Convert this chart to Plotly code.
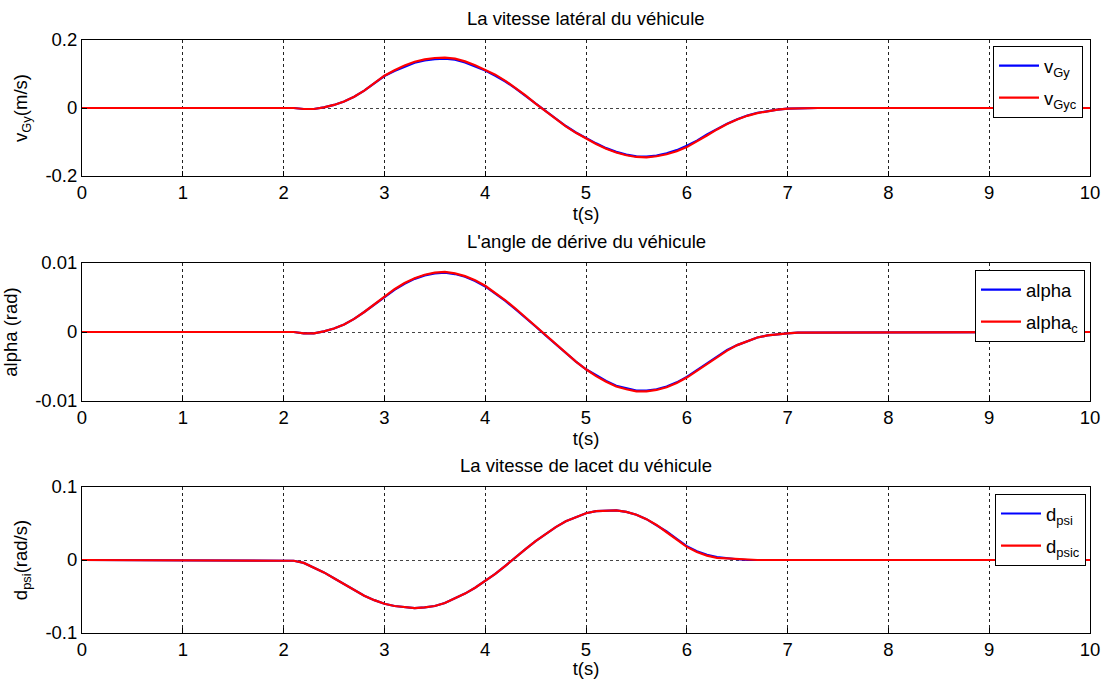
import plotly.graph_objects as go

W, H = 1104, 679

t = [0, 2.0, 2.1, 2.2, 2.3, 2.4, 2.5, 2.6, 2.7, 2.8, 2.9,
     3.0, 3.1, 3.2, 3.3, 3.4, 3.5, 3.6, 3.7, 3.8, 3.9,
     4.0, 4.1, 4.2, 4.3, 4.4, 4.5, 4.6, 4.7, 4.8, 4.9,
     5.0, 5.1, 5.2, 5.3, 5.4, 5.5, 5.6, 5.7, 5.8, 5.9,
     6.0, 6.1, 6.2, 6.3, 6.4, 6.5, 6.6, 6.7, 6.8, 6.9,
     7.0, 7.1, 7.2, 7.3, 10]

v_gy = [0, 0, 0, -0.003, -0.003, 0.002, 0.009, 0.019, 0.033, 0.051, 0.072,
        0.094, 0.109, 0.122, 0.133, 0.140, 0.144, 0.145, 0.142, 0.134, 0.123,
        0.110, 0.095, 0.078, 0.058, 0.036, 0.013, -0.010, -0.032, -0.053, -0.072,
        -0.089, -0.104, -0.118, -0.129, -0.137, -0.142, -0.143, -0.140, -0.133, -0.124,
        -0.111, -0.096, -0.078, -0.061, -0.046, -0.033, -0.022, -0.014, -0.009, -0.005,
        -0.002, -0.001, 0, 0, 0]
v_gyc = [0, 0, 0, -0.003, -0.003, 0.002, 0.009, 0.019, 0.033, 0.051, 0.073,
         0.095, 0.111, 0.125, 0.136, 0.143, 0.147, 0.148, 0.145, 0.137, 0.126,
         0.113, 0.098, 0.080, 0.059, 0.037, 0.013, -0.010, -0.032, -0.054, -0.073,
         -0.090, -0.106, -0.120, -0.131, -0.139, -0.144, -0.145, -0.142, -0.136, -0.127,
         -0.115, -0.099, -0.081, -0.063, -0.047, -0.034, -0.023, -0.015, -0.009, -0.005,
         -0.002, -0.001, 0, 0, 0]

alpha = [0, 0, 0, -0.0002, -0.0002, 0.0001, 0.0005, 0.0011, 0.0019, 0.0029, 0.0040,
         0.0051, 0.0061, 0.0070, 0.0077, 0.0082, 0.0085, 0.0086, 0.0084, 0.0080, 0.0074,
         0.0066, 0.0056, 0.0045, 0.0033, 0.0021, 0.0008, -0.0005, -0.0018, -0.0031, -0.0043,
         -0.0054, -0.0063, -0.0071, -0.0078, -0.0082, -0.0085, -0.0085, -0.0083, -0.0079, -0.0073,
         -0.0065, -0.0055, -0.0045, -0.0035, -0.0026, -0.0019, -0.0013, -0.0008, -0.0005, -0.0003,
         -0.0002, -0.0001, -0.0001, 0, 0]
alpha_c = [0, 0, 0, -0.0002, -0.0002, 0.0001, 0.0005, 0.0011, 0.0019, 0.0029, 0.0040,
           0.0052, 0.0062, 0.0071, 0.0078, 0.0083, 0.0086, 0.0087, 0.0085, 0.0081, 0.0075,
           0.0067, 0.0057, 0.0046, 0.0034, 0.0021, 0.0008, -0.0005, -0.0018, -0.0031, -0.0043,
           -0.0054, -0.0064, -0.0072, -0.0079, -0.0083, -0.0086, -0.0086, -0.0084, -0.0080, -0.0074,
           -0.0066, -0.0056, -0.0046, -0.0036, -0.0027, -0.0019, -0.0013, -0.0008, -0.0005, -0.0003,
           -0.0002, -0.0001, -0.0001, 0, 0]

d_psi = [0, 0, -0.001, -0.004, -0.010, -0.017, -0.025, -0.033, -0.041, -0.049, -0.055,
         -0.060, -0.063, -0.065, -0.066, -0.065, -0.063, -0.059, -0.053, -0.046, -0.038,
         -0.029, -0.019, -0.008, 0.004, 0.015, 0.026, 0.036, 0.045, 0.053, 0.059,
         0.064, 0.067, 0.068, 0.068, 0.066, 0.062, 0.056, 0.048, 0.039, 0.029,
         0.019, 0.012, 0.007, 0.004, 0.002, 0.001, 0, 0, 0, 0,
         0, 0, 0, 0, 0]
d_psic = [0, 0, -0.001, -0.004, -0.010, -0.017, -0.025, -0.033, -0.041, -0.049, -0.055,
          -0.060, -0.063, -0.065, -0.066, -0.065, -0.063, -0.059, -0.053, -0.046, -0.038,
          -0.029, -0.019, -0.008, 0.004, 0.015, 0.026, 0.036, 0.045, 0.053, 0.059,
          0.064, 0.067, 0.068, 0.068, 0.066, 0.062, 0.056, 0.048, 0.038, 0.028,
          0.018, 0.011, 0.006, 0.003, 0.002, 0.001, 0, 0, 0, 0,
          0, 0, 0, 0, 0]

titles = ["La vitesse latéral du véhicule",
          "L'angle de dérive du véhicule",
          "La vitesse de lacet du véhicule"]
ylabels = ["v<sub>Gy</sub>(m/s)", "alpha (rad)", "d<sub>psi</sub>(rad/s)"]
names = [("v<sub>Gy</sub>", "v<sub>Gyc</sub>"),
         ("alpha", "alpha<sub>c</sub>"),
         ("d<sub>psi</sub>", "d<sub>psic</sub>")]
ylims = [0.2, 0.01, 0.1]
yticktext = [["-0.2", "0", "0.2"], ["-0.01", "0", "0.01"], ["-0.1", "0", "0.1"]]
xticks = list(range(0, 11))

series = [(v_gy, v_gyc), (alpha, alpha_c), (d_psi, d_psic)]

# pixel boxes (top, bottom) of each axes
boxes = [(40, 176), (263, 401), (487, 633)]
xl, xr = 82, 1090
legend_pos = [(1083, 46), (1085, 270), (1086, 494)]

FONT = "Liberation Sans"
fs = 18.5

fig = go.Figure()
for i in range(3):
    ax = "" if i == 0 else str(i + 1)
    b, r = series[i]
    leg = "legend" if i == 0 else "legend" + str(i + 1)
    fig.add_trace(go.Scatter(x=t, y=b, mode="lines", name=names[i][0],
                             line=dict(color="#0000ff", width=2.2),
                             legendgroup="b%d" % i,
                             xaxis="x" + ax, yaxis="y" + ax, legend=leg))
    fig.add_trace(go.Scatter(x=t, y=r, mode="lines", name=names[i][1],
                             line=dict(color="#ff0000", width=2.2),
                             legendgroup="r%d" % i,
                             xaxis="x" + ax, yaxis="y" + ax, legend=leg))

layout = dict(width=W, height=H, paper_bgcolor="white", plot_bgcolor="white",
              margin=dict(l=0, r=0, t=0, b=0, autoexpand=False),
              font=dict(family=FONT, size=fs, color="black"),
              annotations=[], shapes=[], showlegend=True)

for i in range(3):
    top, bot = boxes[i]
    ax = "" if i == 0 else str(i + 1)
    ylim = ylims[i]
    layout["xaxis" + ax] = dict(
        domain=[xl / W, xr / W], range=[0, 10], anchor="y" + ax,
        tickvals=xticks, ticktext=[str(v) for v in xticks], automargin=False,
        showline=True, linecolor="black", linewidth=1, mirror=True,
        ticks="inside", ticklen=5, tickcolor="black",
        showgrid=True, gridcolor="#222222", gridwidth=1, griddash="3px,3px",
        zeroline=False, tickfont=dict(family=FONT, size=fs),
        title=dict(text="t(s)", font=dict(family=FONT, size=fs), standoff=2),
    )
    layout["yaxis" + ax] = dict(
        domain=[1 - bot / H, 1 - top / H], range=[-ylim, ylim], anchor="x" + ax,
        tickvals=[-ylim, 0, ylim], ticktext=yticktext[i], automargin=False,
        showline=True, linecolor="black", linewidth=1, mirror=True,
        ticks="inside", ticklen=5, tickcolor="black",
        showgrid=True, gridcolor="#444444", gridwidth=1, griddash="3px,3px",
        zeroline=False, tickfont=dict(family=FONT, size=fs),
        title=dict(text=ylabels[i], font=dict(family=FONT, size=fs), standoff=12),
    )
    layout["annotations"].append(dict(
        text=titles[i], x=(xl + xr) / 2 / W, y=1 - (top - 22) / H,
        xref="paper", yref="paper", xanchor="center", yanchor="middle",
        showarrow=False, font=dict(family=FONT, size=fs)))
    lx, ly = legend_pos[i]
    key = "legend" if i == 0 else "legend" + str(i + 1)
    layout[key] = dict(x=lx / W, y=1 - ly / H, xanchor="right", yanchor="top",
                       xref="paper", yref="paper",
                       bgcolor="white", bordercolor="black", borderwidth=1,
                       font=dict(family=FONT, size=fs), tracegroupgap=5,
                       itemwidth=40)

fig.update_layout(**layout)
fig.write_html("out.html", config={"displayModeBar": False},
               post_script="document.body.style.margin='0';document.body.style.padding='0';")
